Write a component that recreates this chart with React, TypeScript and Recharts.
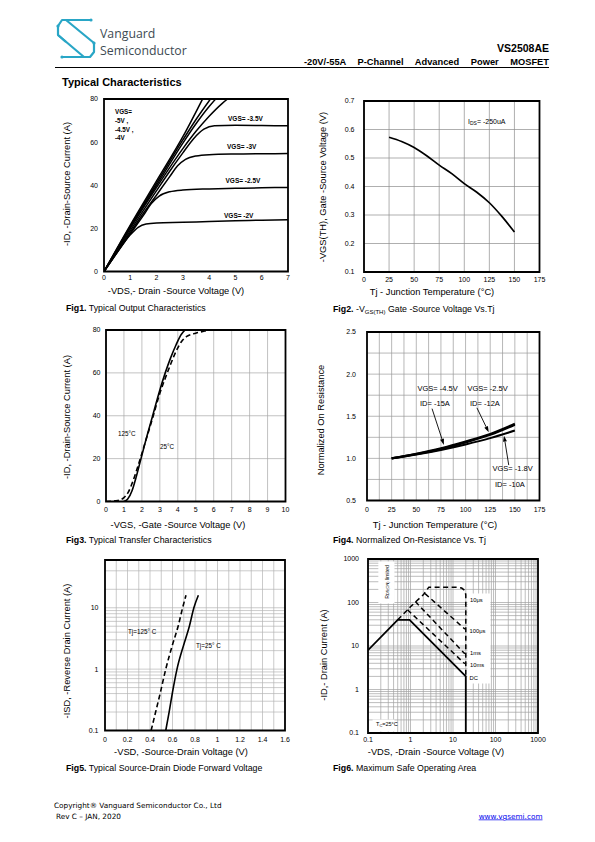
import React from "react";
import { LineChart, Line, XAxis, YAxis, CartesianGrid, ReferenceArea, ReferenceLine } from "recharts";

const SANS = "'Liberation Sans', Arial, Helvetica, sans-serif";

// ---------- Fig1: output characteristics ----------
const fig1XTicks = [0, 1, 2, 3, 4, 5, 6, 7];
const fig1YTicks = [0, 20, 40, 60, 80];
const outVgs2 = [[0, 0], [0.5, 9], [1, 17], [1.3, 20.5], [1.6, 22], [2, 22.5], [3, 22.8], [4, 23.2], [5, 23.5], [6, 23.8], [7, 24]];
const outVgs25 = [[0, 0], [0.5, 8.8], [1, 17.5], [1.5, 26], [1.8, 31.5], [2.1, 35], [2.5, 37], [3, 37.8], [4, 38.3], [5, 38.6], [6, 38.8], [7, 39]];
const outVgs3 = [[0, 0], [1, 18], [1.5, 27], [2, 35.5], [2.5, 44], [2.8, 49], [3.1, 52], [3.5, 53.6], [4, 54.2], [5, 54.5], [6, 54.6], [7, 54.7]];
const outVgs35 = [[0, 0], [1, 19], [2, 37.5], [2.5, 46.5], [3, 55], [3.4, 61.5], [3.8, 66], [4.2, 67.6], [5, 67.8], [6, 67.7], [7, 67.6]];
const outVgs4 = [[0, 0], [1, 20], [2, 39], [3, 57], [3.5, 65], [4, 72], [4.5, 78], [4.7, 80]];
const outVgs45 = [[0, 0], [1, 20.5], [2, 40], [3, 59.5], [3.5, 68.5], [4, 76.5], [4.25, 80]];
const outVgs5 = [[0, 0], [1, 21], [2, 41], [3, 61], [3.5, 70.5], [4.05, 80]];
const outVgsMax = [[0, 0], [1, 21.5], [2, 42], [3, 62.5], [3.75, 80]];

// ---------- Fig2: threshold vs temperature ----------
const tempTicks = [0, 25, 50, 75, 100, 125, 150, 175];
const fig2YTicks = [0.1, 0.2, 0.3, 0.4, 0.5, 0.6, 0.7];
const vthVsTemp = [[25, 0.573], [37.5, 0.558], [50, 0.537], [62.5, 0.508], [75, 0.475], [87.5, 0.445], [100, 0.41], [112.5, 0.38], [125, 0.343], [137.5, 0.295], [150, 0.24]];

// ---------- Fig3: transfer characteristics ----------
const fig3XTicks = [0, 1, 2, 3, 4, 5, 6, 7, 8, 9, 10];
const fig3YTicks = [0, 20, 40, 60, 80];
const transfer25 = [[1, 0], [1.2, 1], [1.45, 5], [1.7, 12], [1.95, 20], [2.2, 28], [2.6, 40], [3, 52], [3.3, 60], [3.6, 67], [3.9, 73], [4.2, 78], [4.45, 80], [5, 80]];
const transfer125 = [[0, 0], [0.5, 0.3], [0.8, 0.8], [1, 1.8], [1.25, 4.5], [1.5, 9.5], [1.8, 17], [2.2, 28], [2.6, 39], [3, 50.5], [3.3, 57.5], [3.6, 64], [3.9, 70], [4.2, 74.5], [4.5, 77], [5, 78.5], [5.5, 79.5], [5.8, 80]];

// ---------- Fig4: normalized on-resistance ----------
const fig4YTicks = [0.5, 1.0, 1.5, 2.0, 2.5];
const fig4XGrid = [12.5, 25, 37.5, 50, 62.5, 75, 87.5, 100, 112.5, 125, 137.5, 150, 162.5];
const fig4YGrid = [0.75, 1, 1.25, 1.5, 1.75, 2, 2.25];
const rdsVgs45 = [[25, 1.0], [50, 1.05], [75, 1.11], [100, 1.19], [125, 1.28], [150, 1.4]];
const rdsVgs25 = [[25, 1.0], [50, 1.055], [75, 1.12], [100, 1.2], [125, 1.29], [150, 1.41]];
const rdsVgs18 = [[25, 1.0], [50, 1.045], [75, 1.1], [100, 1.165], [125, 1.24], [150, 1.33]];
const rdsArrows = [
  { from: [66, 1.59], to: [78, 1.16] },
  { from: [111.5, 1.6], to: [123.5, 1.31] },
  { from: [143.8, 0.92], to: [139, 1.27] },
];

// ---------- Fig5: diode forward voltage ----------
const fig5XTicks = [0, 0.2, 0.4, 0.6, 0.8, 1, 1.2, 1.4, 1.6];
const fig5XGrid = [0.1, 0.2, 0.3, 0.4, 0.5, 0.6, 0.7, 0.8, 0.9, 1, 1.1, 1.2, 1.3, 1.4, 1.5];
const fig5YTicks = [0.1, 1, 10];
const fig5YExtra = [20, 40];
const diode25 = [[0.54, 0.1], [0.57, 0.2], [0.6, 0.42], [0.64, 1], [0.7, 2.5], [0.75, 5], [0.79, 10], [0.83, 16]];
const diode125 = [[0.41, 0.1], [0.45, 0.2], [0.49, 0.4], [0.54, 1], [0.6, 2.5], [0.65, 5], [0.69, 10], [0.72, 16]];

// ---------- Fig6: safe operating area ----------
const soaTicks = [0.1, 1, 10, 100, 1000];
const soaDC = [[0.1, 8], [0.5, 40], [0.95, 40], [20, 2], [20, 0.1]];
const soa10us = [[0.5, 40], [1, 80], [2, 150], [2.7, 225], [12.5, 225], [16, 215], [19, 190], [20, 150], [20, 2]];
const soa100us = [[2.2, 160], [19, 24.5]];
const soa1ms = [[1.3, 105], [19, 6.6]];
const soa10ms = [[0.85, 68], [19, 3.9]];
const soaBoxes = [
  { x1: 0.175, x2: 0.42, y1: 95, y2: 880 },
  { x1: 21.9, x2: 76, y1: 1.37, y2: 161 },
  { x1: 0.128, x2: 0.42, y1: 0.108, y2: 0.204 },
];

const logMinor = (lo: number, hi: number) => {
  const out: number[] = [];
  for (let d = lo; d < hi; d *= 10) for (let k = 1; k < 10; k++) out.push(+(d * k).toPrecision(3));
  out.push(hi);
  return out;
};

const toPts = (a: number[][]) => a.map(([x, y]) => ({ x, y }));

const Arrow = (p: any) => {
  const { x1, y1, x2, y2 } = p;
  const a = Math.atan2(y2 - y1, x2 - x1);
  const L = 6, W = 2;
  const bx = x2 - L * Math.cos(a), by = y2 - L * Math.sin(a);
  const pts = `${x2},${y2} ${bx + W * Math.sin(a)},${by - W * Math.cos(a)} ${bx - W * Math.sin(a)},${by + W * Math.cos(a)}`;
  return (
    <g>
      <line x1={x1} y1={y1} x2={bx} y2={by} stroke="#000" strokeWidth={0.9} />
      <polygon points={pts} fill="#000" />
    </g>
  );
};

type Curve = { data: number[][]; dash?: string; w?: number; linear?: boolean };

interface PlotProps {
  box: number[];
  xDomain: number[];
  yDomain: number[];
  xTicks: number[];
  yTicks: number[];
  xLog?: boolean;
  yLog?: boolean;
  yFmt?: (v: number) => string;
  xGrid?: number[];
  yGrid?: number[];
  gridColor?: string;
  curves: Curve[];
  xGap: number;
  yGap: number;
  children?: React.ReactNode;
}

const Plot = ({ box, xDomain, yDomain, xTicks, yTicks, xLog, yLog, yFmt, xGrid, yGrid, gridColor, curves, xGap, yGap, children }: PlotProps) => {
  const [left, top, w, h] = box;
  const yw = 40, xh = 18, m = 4, mr = 16;
  const tick = { fontSize: 7, fill: "#000", fontFamily: SANS };
  return (
    <div style={{ position: "absolute", left: left - yw - m, top: top - m }}>
      <LineChart width={w + yw + m + mr} height={h + xh + 2 * m} margin={{ top: m, right: mr, bottom: m, left: m }}>
        {(xGrid || yGrid) && (
          <CartesianGrid
            vertical={!!xGrid}
            horizontal={!!yGrid}
            verticalValues={xGrid}
            horizontalValues={yGrid}
            stroke={gridColor || "#999"}
            strokeWidth={0.7}
          />
        )}
        <XAxis
          type="number"
          dataKey="x"
          domain={xDomain}
          ticks={xTicks}
          scale={xLog ? "log" : "auto"}
          allowDataOverflow
          interval={0}
          axisLine={false}
          tickLine={false}
          tickSize={xGap}
          tickMargin={0}
          height={xh}
          tick={tick}
        />
        <YAxis
          type="number"
          dataKey="y"
          domain={yDomain}
          ticks={yTicks}
          scale={yLog ? "log" : "auto"}
          allowDataOverflow
          interval={0}
          axisLine={false}
          tickLine={false}
          tickSize={yGap}
          tickMargin={0}
          width={yw}
          tick={tick}
          tickFormatter={yFmt}
        />
        {children}
        {curves.map((c, i) => (
          <Line
            key={i}
            data={toPts(c.data)}
            dataKey="y"
            type={c.linear ? "linear" : "monotone"}
            stroke="#000"
            strokeWidth={c.w || 1.6}
            strokeDasharray={c.dash}
            dot={false}
            activeDot={false}
            isAnimationActive={false}
          />
        ))}
        <ReferenceArea
          x1={xDomain[0]}
          x2={xDomain[1]}
          y1={yDomain[0]}
          y2={yDomain[1]}
          ifOverflow="visible"
          fill="none"
          stroke="#000"
          strokeWidth={1.8}
        />
      </LineChart>
    </div>
  );
};

const T = ({ x, y, size = 9.3, bold = false, anchor = "start", rot = false, children }: any) => (
  <text
    x={x}
    y={y}
    fontSize={size}
    fontWeight={bold ? "bold" : "normal"}
    textAnchor={anchor}
    dominantBaseline={rot ? "central" : undefined}
    transform={rot ? `rotate(-90 ${x} ${y})` : undefined}
    fontFamily={SANS}
    fill="#000"
  >
    {children}
  </text>
);

const Caption = ({ x, y, n, children }: any) => (
  <text x={x} y={y} fontSize={8.8} fontFamily={SANS} fill="#000">
    <tspan fontWeight="bold">{`Fig${n}.`}</tspan>
    <tspan> </tspan>
    {children}
  </text>
);

const App = () => {
  const soaMinor = logMinor(0.1, 1000);
  const fig5YGrid = [...logMinor(0.1, 10), ...fig5YExtra];
  return (
    <div style={{ position: "absolute", left: 0, top: 0, width: 595, height: 842, background: "#fff" }}>
      <Plot
        box={[103.5, 98.5, 184, 172.5]}
        xDomain={[0, 7]}
        yDomain={[0, 80]}
        xTicks={fig1XTicks}
        yTicks={fig1YTicks}
        xGap={4}
        yGap={6}
        curves={[outVgs2, outVgs25, outVgs3, outVgs35, outVgs4, outVgs45, outVgs5, outVgsMax].map((d) => ({ data: d, w: 1.5 }))}
      />
      <Plot
        box={[364, 100.5, 175.5, 171]}
        xDomain={[0, 175]}
        yDomain={[0.1, 0.7]}
        xTicks={tempTicks}
        yTicks={fig2YTicks}
        xGrid={tempTicks}
        yGrid={fig2YTicks}
        gridColor="#8c8c8c"
        xGap={5.5}
        yGap={9.5}
        curves={[{ data: vthVsTemp, w: 1.7 }]}
      />
      <Plot
        box={[105.5, 330, 179.5, 171.5]}
        xDomain={[0, 10]}
        yDomain={[0, 80]}
        xTicks={fig3XTicks}
        yTicks={fig3YTicks}
        xGrid={fig3XTicks}
        yGrid={fig3YTicks}
        gridColor="#a8a8a8"
        xGap={6}
        yGap={5.5}
        curves={[
          { data: transfer25, w: 1.6 },
          { data: transfer125, w: 1.6, dash: "5 3" },
        ]}
      />
      <Plot
        box={[366.5, 331.5, 172.5, 168.5]}
        xDomain={[0, 175]}
        yDomain={[0.5, 2.5]}
        xTicks={tempTicks}
        yTicks={fig4YTicks}
        yFmt={(v: number) => v.toFixed(1)}
        xGrid={fig4XGrid}
        yGrid={fig4YGrid}
        gridColor="#9a9a9a"
        xGap={7}
        yGap={11}
        curves={[
          { data: rdsVgs45, w: 2.2 },
          { data: rdsVgs25, w: 2.2 },
          { data: rdsVgs18, w: 2 },
        ]}
      >
        {rdsArrows.map((a, i) => (
          <ReferenceLine
            key={i}
            segment={[{ x: a.from[0], y: a.from[1] }, { x: a.to[0], y: a.to[1] }]}
            ifOverflow="visible"
            shape={Arrow}
          />
        ))}
      </Plot>
      <Plot
        box={[105, 559.5, 180, 170.5]}
        xDomain={[0, 1.6]}
        yDomain={[0.1, 60]}
        yLog
        xTicks={fig5XTicks}
        yTicks={fig5YTicks}
        xGrid={fig5XGrid}
        yGrid={fig5YGrid}
        gridColor="#b4b4b4"
        xGap={7}
        yGap={6.5}
        curves={[
          { data: diode25, w: 1.6 },
          { data: diode125, w: 1.6, dash: "5 3" },
        ]}
      />
      <Plot
        box={[367.5, 558.5, 170, 174]}
        xDomain={[0.1, 1000]}
        yDomain={[0.1, 1000]}
        xLog
        yLog
        xTicks={soaTicks}
        yTicks={soaTicks}
        xGrid={soaMinor}
        yGrid={soaMinor}
        gridColor="#a0a0a0"
        xGap={4.5}
        yGap={9}
        curves={[
          { data: soaDC, w: 1.8, linear: true },
          { data: soa10us, w: 1.5, dash: "5 3.5", linear: true },
          { data: soa100us, w: 1.5, dash: "5 3.5", linear: true },
          { data: soa1ms, w: 1.5, dash: "5 3.5", linear: true },
          { data: soa10ms, w: 1.5, dash: "5 3.5", linear: true },
        ]}
      >
        {soaBoxes.map((b, i) => (
          <ReferenceArea key={i} x1={b.x1} x2={b.x2} y1={b.y1} y2={b.y2} fill="#fff" fillOpacity={1} stroke="none" ifOverflow="visible" />
        ))}
      </Plot>

      <svg width={595} height={842} style={{ position: "absolute", left: 0, top: 0, pointerEvents: "none" }}>
        {/* header */}
        <g stroke="#29a6c6" strokeWidth={2.2} fill="none" strokeLinejoin="round">
          <polyline points="91,20 62,20 58,26 58,35 84,57 62,57" />
          <polyline points="66,20 94,43 94,52 90,57 84,57" />
          <polyline points="58,35 66,42" />
        </g>
        <g fill="#29a6c6">
          <circle cx={91} cy={20} r={1.6} />
          <circle cx={58} cy={26} r={1.6} />
          <circle cx={94} cy={43} r={1.6} />
          <circle cx={62} cy={57} r={1.6} />
        </g>
        <text x={100} y={38} fontSize={12.3} fontFamily="'Open Sans', sans-serif" fill="#3e4b53">Vanguard</text>
        <text x={100} y={55} fontSize={12.3} fontFamily="'Open Sans', sans-serif" fill="#3e4b53">Semiconductor</text>
        <T x={549} y={52} size={10.5} bold anchor="end">VS2508AE</T>
        <text x={549} y={64.5} fontSize={9.3} fontWeight="bold" fontFamily={SANS} textAnchor="end" wordSpacing={9} fill="#000">
          -20V/-55A P-Channel Advanced Power MOSFET
        </text>
        <line x1={55} y1={67.5} x2={549} y2={67.5} stroke="#000" strokeWidth={1} />
        <T x={62} y={86} size={11} bold>Typical Characteristics</T>

        {/* fig1 */}
        <T x={67} y={184} rot anchor="middle">-ID, -Drain-Source Current (A)</T>
        <T x={176} y={294} anchor="middle">-VDS,- Drain -Source Voltage (V)</T>
        <Caption x={66} y={311} n={1}>Typical Output Characteristics</Caption>
        <T x={115} y={114} size={6.3} bold>VGS=</T>
        <T x={115} y={123} size={6.3} bold>-5V ,</T>
        <T x={115} y={131.5} size={6.3} bold>-4.5V ,</T>
        <T x={115} y={140} size={6.3} bold>-4V</T>
        <T x={228} y={121} size={6.5} bold>VGS= -3.5V</T>
        <T x={227} y={148.5} size={6.5} bold>VGS= -3V</T>
        <T x={225.5} y={182.5} size={6.5} bold>VGS= -2.5V</T>
        <T x={224} y={218} size={6.5} bold>VGS= -2V</T>

        {/* fig2 */}
        <T x={323} y={187} rot anchor="middle">-VGS(TH), Gate -Source Voltage (V)</T>
        <T x={432} y={295} anchor="middle">Tj - Junction Temperature (°C)</T>
        <Caption x={333} y={312} n={2}>
          <tspan>-V</tspan>
          <tspan fontSize={6} dy={1.5}>GS(TH)</tspan>
          <tspan dy={-1.5}> Gate -Source Voltage Vs.Tj</tspan>
        </Caption>
        <text x={468} y={124} fontSize={7} fontFamily={SANS} fill="#000">
          <tspan>I</tspan>
          <tspan fontSize={5} dy={1}>DS</tspan>
          <tspan dy={-1}>= -250uA</tspan>
        </text>

        {/* fig3 */}
        <T x={67} y={417} rot anchor="middle">-ID, -Drain-Source Current (A)</T>
        <T x={178} y={527.5} anchor="middle">-VGS, -Gate -Source Voltage (V)</T>
        <Caption x={66} y={543} n={3}>Typical Transfer Characteristics</Caption>
        <T x={118} y={435.5} size={6.3}>125°C</T>
        <T x={160} y={449} size={6.3}>25°C</T>

        {/* fig4 */}
        <T x={321} y={420} rot anchor="middle">Normalized On Resistance</T>
        <T x={435} y={527.5} anchor="middle">Tj - Junction Temperature (°C)</T>
        <Caption x={333} y={543} n={4}>Normalized On-Resistance Vs. Tj</Caption>
        <T x={417.5} y={391} size={7.5}>VGS= -4.5V</T>
        <T x={420} y={405.5} size={7.5}>ID= -15A</T>
        <T x={467.5} y={391} size={7.5}>VGS= -2.5V</T>
        <T x={470} y={405.5} size={7.5}>ID= -12A</T>
        <T x={492.5} y={471} size={7.5}>VGS= -1.8V</T>
        <T x={495} y={487} size={7.5}>ID= -10A</T>

        {/* fig5 */}
        <T x={67} y={651} rot anchor="middle">-ISD, -Reverse Drain Current (A)</T>
        <T x={181} y={755} anchor="middle">-VSD, -Source-Drain Voltage (V)</T>
        <Caption x={66} y={771} n={5}>Typical Source-Drain Diode Forward Voltage</Caption>
        <T x={128} y={634} size={6.3}>Tj=125° C</T>
        <T x={196} y={647.5} size={6.3}>Tj=25° C</T>

        {/* fig6 */}
        <T x={324} y={655} rot anchor="middle">-ID,- Drain Current (A)</T>
        <T x={436} y={755} anchor="middle">-VDS, -Drain -Source Voltage (V)</T>
        <Caption x={333} y={771} n={6}>Maximum Safe Operating Area</Caption>
        <text x={386.5} y={582} fontSize={5.2} fontFamily={SANS} textAnchor="middle" dominantBaseline="central" transform="rotate(-90 386.5 582)" fill="#000">
          <tspan>R</tspan>
          <tspan fontSize={3.8} dy={1}>DS(ON)</tspan>
          <tspan dy={-1}> limited</tspan>
        </text>
        <text x={376} y={726} fontSize={5.5} fontFamily={SANS} fill="#000">
          <tspan>T</tspan>
          <tspan fontSize={4} dy={1}>C</tspan>
          <tspan dy={-1}>=25°C</tspan>
        </text>
        <T x={470} y={601.5} size={5.8}>10μs</T>
        <T x={469.5} y={633} size={5.8}>100μs</T>
        <T x={470} y={655} size={5.8}>1ms</T>
        <T x={470} y={667} size={5.8}>10ms</T>
        <T x={469.5} y={679.5} size={5.8}>DC</T>

        {/* footer */}
        <text x={54} y={807.5} fontSize={7.3} fontFamily="'DejaVu Sans', Verdana, sans-serif" fill="#000">
          Copyright® Vanguard Semiconductor Co., Ltd
        </text>
        <text x={56} y={818.5} fontSize={7.3} fontFamily="'DejaVu Sans', Verdana, sans-serif" fill="#000">
          Rev C – JAN, 2020
        </text>
        <text x={542.5} y={818.5} fontSize={7.3} fontFamily="'DejaVu Sans', Verdana, sans-serif" fill="#0000ee" textAnchor="end" textDecoration="underline">
          www.vgsemi.com
        </text>
      </svg>
    </div>
  );
};

export default App;
